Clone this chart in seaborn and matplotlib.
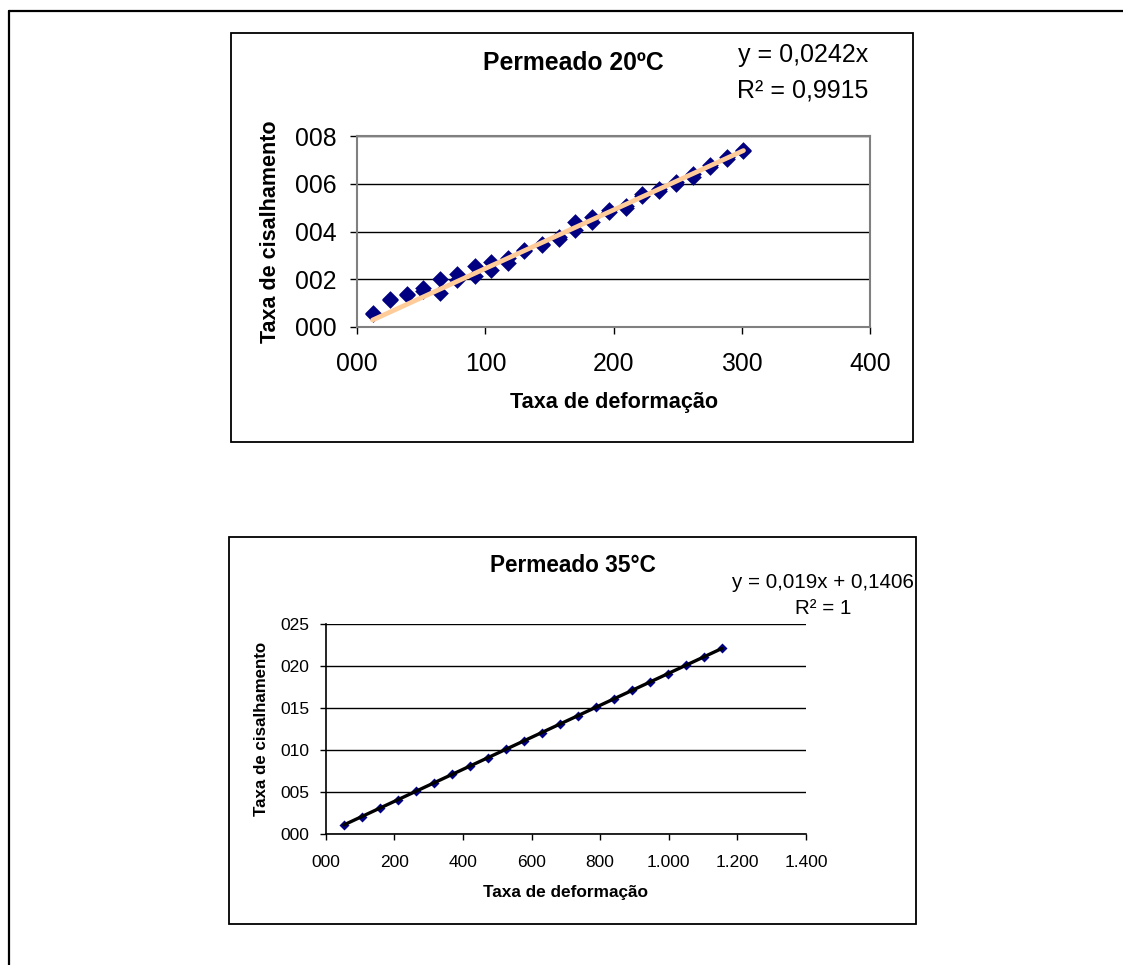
import numpy as np
import pandas as pd
import matplotlib
matplotlib.use("Agg")
import matplotlib.pyplot as plt
import seaborn as sns
from matplotlib.patches import Rectangle
from matplotlib.lines import Line2D
from matplotlib.ticker import FuncFormatter, MultipleLocator

# ---------------- data ----------------
# Permeado 20ºC (two readings per shear rate: ascending / descending)
x20 = [11.9, 25.4, 38.4, 51.3, 64.8, 78.0, 91.5, 104.4, 117.4, 130.3, 143.8, 157.5,
       169.7, 183.4, 196.3, 209.8, 222.2, 235.7, 248.6, 261.6, 275.4, 288.3, 301.3]
y20_up = [0.59, 1.19, 1.40, 1.65, 1.99, 2.24, 2.56, 2.73, 2.87, 3.24, 3.49, 3.75,
          4.40, 4.59, 4.89, 5.06, 5.56, 5.76, 6.08, 6.39, 6.78, 7.13, 7.41]
y20_down = [0.55, 1.12, 1.33, 1.52, 1.43, 1.96, 2.14, 2.38, 2.66, 3.18, 3.42, 3.70,
            4.05, 4.40, 4.82, 4.98, 5.50, 5.68, 6.00, 6.30, 6.70, 7.05, 7.38]

# Permeado 35°C
x35 = [53, 105, 158, 210, 263, 315, 368, 420, 473, 525, 578, 630,
       683, 735, 788, 840, 893, 945, 998, 1050, 1103, 1155]
y35 = [1.1, 2.1, 3.1, 4.1, 5.1, 6.1, 7.2, 8.1, 9.1, 10.1, 11.1, 12.1,
       13.1, 14.1, 15.1, 16.1, 17.1, 18.1, 19.1, 20.1, 21.1, 22.1]

title20 = "Permeado 20ºC"
title35 = "Permeado 35°C"
eq20 = ["y = 0,0242x", "R² = 0,9915"]
eq35 = ["y = 0,019x + 0,1406", "R² = 1"]
xlabel = "Taxa de deformação"
ylabel = "Taxa de cisalhamento"

# ---------------- style ----------------
sns.set_theme(style="white")
plt.rcParams['font.family'] = ['Liberation Sans', 'DejaVu Sans']
plt.rcParams['text.color'] = 'black'
plt.rcParams['axes.labelcolor'] = 'black'
plt.rcParams['xtick.color'] = 'black'
plt.rcParams['ytick.color'] = 'black'

W, H = 1123, 965
fig = plt.figure(figsize=(W / 100, H / 100), dpi=100)
fig.patch.set_facecolor("white")


def box(l, t, r, b):
    return [l / W, 1 - b / H, (r - l) / W, (b - t) / H]


def fx(px):
    return px / W


def fy(py):
    return 1 - py / H


def pad3(v, pos):
    v = int(round(v))
    if v >= 1000:
        return f"{v:,d}".replace(",", ".")
    return f"{v:03d}"


NAVY = "#000080"

# outer page frame (left and top lines)
fig.add_artist(Line2D([fx(9), fx(9)], [fy(11), fy(975)], transform=fig.transFigure,
                      color="black", lw=1.6))
fig.add_artist(Line2D([fx(9), fx(1130)], [fy(11), fy(11)], transform=fig.transFigure,
                      color="black", lw=1.6))

# chart frames
for (l, t, r, b) in [(231, 33, 912.7, 442.3), (229, 536.7, 916.3, 923.7)]:
    fig.add_artist(Rectangle((fx(l), fy(b)), (r - l) / W, (b - t) / H,
                             transform=fig.transFigure, fill=False,
                             edgecolor="black", lw=1.3))

# ---------------- top chart ----------------
ax1 = fig.add_axes(box(357.3, 136, 870, 327))
df20 = pd.DataFrame({"x": x20 + x20, "y": y20_up + y20_down})
sns.scatterplot(data=df20, x="x", y="y", marker="D", s=72, color=NAVY,
                edgecolor=NAVY, linewidth=0, ax=ax1, zorder=3)
xa = np.array(df20["x"])
ya = np.array(df20["y"])
slope20 = np.sum(xa * ya) / np.sum(xa * xa)
xs = np.array([min(x20), max(x20)])
sns.lineplot(x=xs, y=slope20 * xs, color="#FFCC99", lw=3.4, ax=ax1, zorder=4)

ax1.set_xlim(0, 400)
ax1.set_ylim(0, 8)
ax1.xaxis.set_major_locator(MultipleLocator(100))
ax1.yaxis.set_major_locator(MultipleLocator(2))
ax1.xaxis.set_major_formatter(FuncFormatter(pad3))
ax1.yaxis.set_major_formatter(FuncFormatter(pad3))
ax1.yaxis.grid(True, color="black", lw=1)
ax1.xaxis.grid(False)
for s in ax1.spines.values():
    s.set_color("#808080")
    s.set_linewidth(1.5)
ax1.tick_params(axis="both", direction="out", length=5, width=1, color="black",
                labelcolor="black", labelsize=17.8, bottom=True, left=True)
ax1.tick_params(axis="x", pad=13)
ax1.tick_params(axis="y", pad=10)
ax1.set_xlabel(xlabel, fontsize=15.6, fontweight="bold", color="black")
ax1.set_ylabel(ylabel, fontsize=15.5, fontweight="bold", color="black")
ax1.xaxis.set_label_coords(0.5, (327 - 402.5) / 191)
ax1.xaxis.label.set_va("center")
ax1.yaxis.set_label_coords((271 - 357.3) / 512.7, 0.5)
ax1.yaxis.label.set_va("center")

fig.text(fx(573), fy(62.7), title20, ha="center", va="center",
         fontsize=17.8, fontweight="bold", color="black")
fig.text(fx(803), fy(55), eq20[0], ha="center", va="center", fontsize=18, color="black")
fig.text(fx(803), fy(90.7), eq20[1], ha="center", va="center", fontsize=18, color="black")

# ---------------- bottom chart ----------------
ax2 = fig.add_axes(box(325.7, 624, 806, 834.3))
df35 = pd.DataFrame({"x": x35, "y": y35})
sns.scatterplot(data=df35, x="x", y="y", marker="D", s=26, color=NAVY,
                edgecolor=NAVY, linewidth=0, ax=ax2, zorder=3)
sns.regplot(data=df35, x="x", y="y", scatter=False, ci=None, truncate=True,
            line_kws={"color": "black", "lw": 2.4, "zorder": 4}, ax=ax2)

ax2.set_xlim(0, 1400)
ax2.set_ylim(0, 25)
ax2.xaxis.set_major_locator(MultipleLocator(200))
ax2.yaxis.set_major_locator(MultipleLocator(5))
ax2.xaxis.set_major_formatter(FuncFormatter(pad3))
ax2.yaxis.set_major_formatter(FuncFormatter(pad3))
ax2.yaxis.grid(True, color="black", lw=1)
ax2.xaxis.grid(False)
ax2.spines["top"].set_visible(False)
ax2.spines["right"].set_visible(False)
for k in ("left", "bottom"):
    ax2.spines[k].set_color("black")
    ax2.spines[k].set_linewidth(1.2)
ax2.tick_params(axis="both", direction="out", length=4, width=1, color="black",
                labelcolor="black", labelsize=12.5, bottom=True, left=True)
ax2.tick_params(axis="x", pad=11)
ax2.tick_params(axis="y", pad=8)
ax2.set_xlabel(xlabel, fontsize=12.4, fontweight="bold", color="black")
ax2.set_ylabel(ylabel, fontsize=12.2, fontweight="bold", color="black")
ax2.xaxis.set_label_coords(0.5, (834.3 - 892) / 210.3)
ax2.xaxis.label.set_va("center")
ax2.yaxis.set_label_coords((261.7 - 325.7) / 480.3, 0.5)
ax2.yaxis.label.set_va("center")

fig.text(fx(573), fy(565), title35, ha="center", va="center",
         fontsize=16.3, fontweight="bold", color="black")
fig.text(fx(823), fy(582.7), eq35[0], ha="center", va="center", fontsize=14.8, color="black")
fig.text(fx(823), fy(608.3), eq35[1], ha="center", va="center", fontsize=14.8, color="black")

fig.savefig("out.png", dpi=100, facecolor="white")
